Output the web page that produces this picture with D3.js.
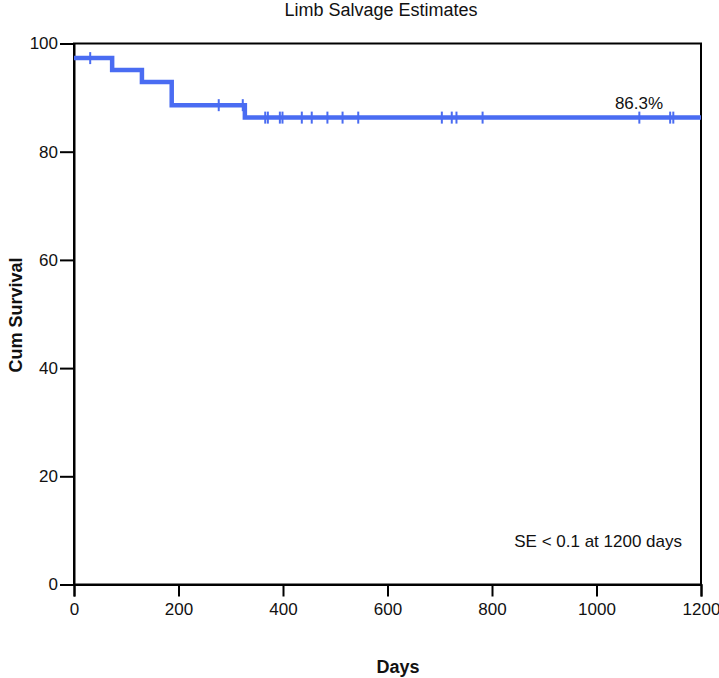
<!DOCTYPE html>
<html>
<head>
<meta charset="utf-8">
<script src="https://cdn.jsdelivr.net/npm/d3@7"></script>
<style>
  body { margin: 0; background: #fff; }
  text { font-family: "Liberation Sans", Arial, sans-serif; }
</style>
</head>
<body>
<svg id="chart" width="719" height="678"></svg>
<script>
// Kaplan-Meier step data (days, cumulative survival %)
const stepDays = [0, 73, 130, 187, 327];
const stepSurvival = [97.3, 95.1, 92.9, 88.6, 86.3];
const endDay = 1200;
// Censor mark days
const censorDays = [31, 277, 323, 366, 371, 394, 399, 436, 455, 485, 514, 544, 704, 723, 732, 782, 1082, 1141, 1147];
const xTicks = [0, 200, 400, 600, 800, 1000, 1200];
const yTicks = [0, 20, 40, 60, 80, 100];
const title = "Limb Salvage Estimates";
const xLabel = "Days";
const yLabel = "Cum Survival";
const endLabel = "86.3%";
const seNote = "SE < 0.1 at 1200 days";

const svg = d3.select("#chart");
const m = { left: 74, right: 701, top: 43.5, bottom: 584.5 };
const x = d3.scaleLinear().domain([0, 1200]).range([m.left, m.right]);
const y = d3.scaleLinear().domain([0, 100]).range([m.bottom, m.top]);

// frame
svg.append("rect").attr("x", m.left).attr("y", m.top)
  .attr("width", m.right - m.left).attr("height", m.bottom - m.top)
  .attr("fill", "none").attr("stroke", "#000").attr("stroke-width", 2);

const xAxis = svg.append("g").attr("transform", `translate(0,${m.bottom})`)
  .call(d3.axisBottom(x).tickValues(xTicks).tickSize(12).tickPadding(6).tickFormat(d3.format("d")));
const yAxis = svg.append("g").attr("transform", `translate(${m.left},0)`)
  .call(d3.axisLeft(y).tickValues(yTicks).tickSize(14).tickPadding(2).tickFormat(d3.format("d")));
[xAxis, yAxis].forEach(g => {
  g.select(".domain").attr("stroke-width", 2);
  g.selectAll(".tick line").attr("stroke-width", 2);
  g.selectAll("text").attr("font-size", 17).attr("fill", "#111")
    .style("font-family", "'Liberation Sans', Arial, sans-serif");
});

// step line
const pts = [];
stepDays.forEach((d, i) => {
  if (i > 0) pts.push([d, stepSurvival[i - 1]]);
  pts.push([d, stepSurvival[i]]);
});
pts.push([endDay, stepSurvival[stepSurvival.length - 1]]);
const line = d3.line().x(d => x(d[0])).y(d => y(d[1]));
const blue = "#4a6cf2";
svg.append("path").datum(pts).attr("d", line)
  .attr("fill", "none").attr("stroke", blue).attr("stroke-width", 4.5)
  .attr("stroke-linejoin", "miter");

function survAt(d) {
  let s = stepSurvival[0];
  stepDays.forEach((sd, i) => { if (d >= sd) s = stepSurvival[i]; });
  return s;
}
svg.append("g").selectAll("line").data(censorDays).join("line")
  .attr("x1", d => x(d)).attr("x2", d => x(d))
  .attr("y1", d => y(survAt(d)) - 6).attr("y2", d => y(survAt(d)) + 6)
  .attr("stroke", blue).attr("stroke-width", 2);

// texts
svg.append("text").attr("x", 381).attr("y", 16).attr("text-anchor", "middle")
  .attr("font-size", 18).attr("fill", "#111").text(title);
svg.append("text").attr("x", 398).attr("y", 673).attr("text-anchor", "middle")
  .attr("font-size", 18).attr("font-weight", "bold").attr("fill", "#111").text(xLabel);
svg.append("text").attr("transform", "translate(22,315) rotate(-90)").attr("text-anchor", "middle")
  .attr("font-size", 18).attr("font-weight", "bold").attr("fill", "#111").text(yLabel);
svg.append("text").attr("x", 639).attr("y", 109).attr("text-anchor", "middle")
  .attr("font-size", 17).attr("fill", "#111").text(endLabel);
svg.append("text").attr("x", 682).attr("y", 547).attr("text-anchor", "end")
  .attr("font-size", 17).attr("fill", "#111").text(seNote);
</script>
</body>
</html>
